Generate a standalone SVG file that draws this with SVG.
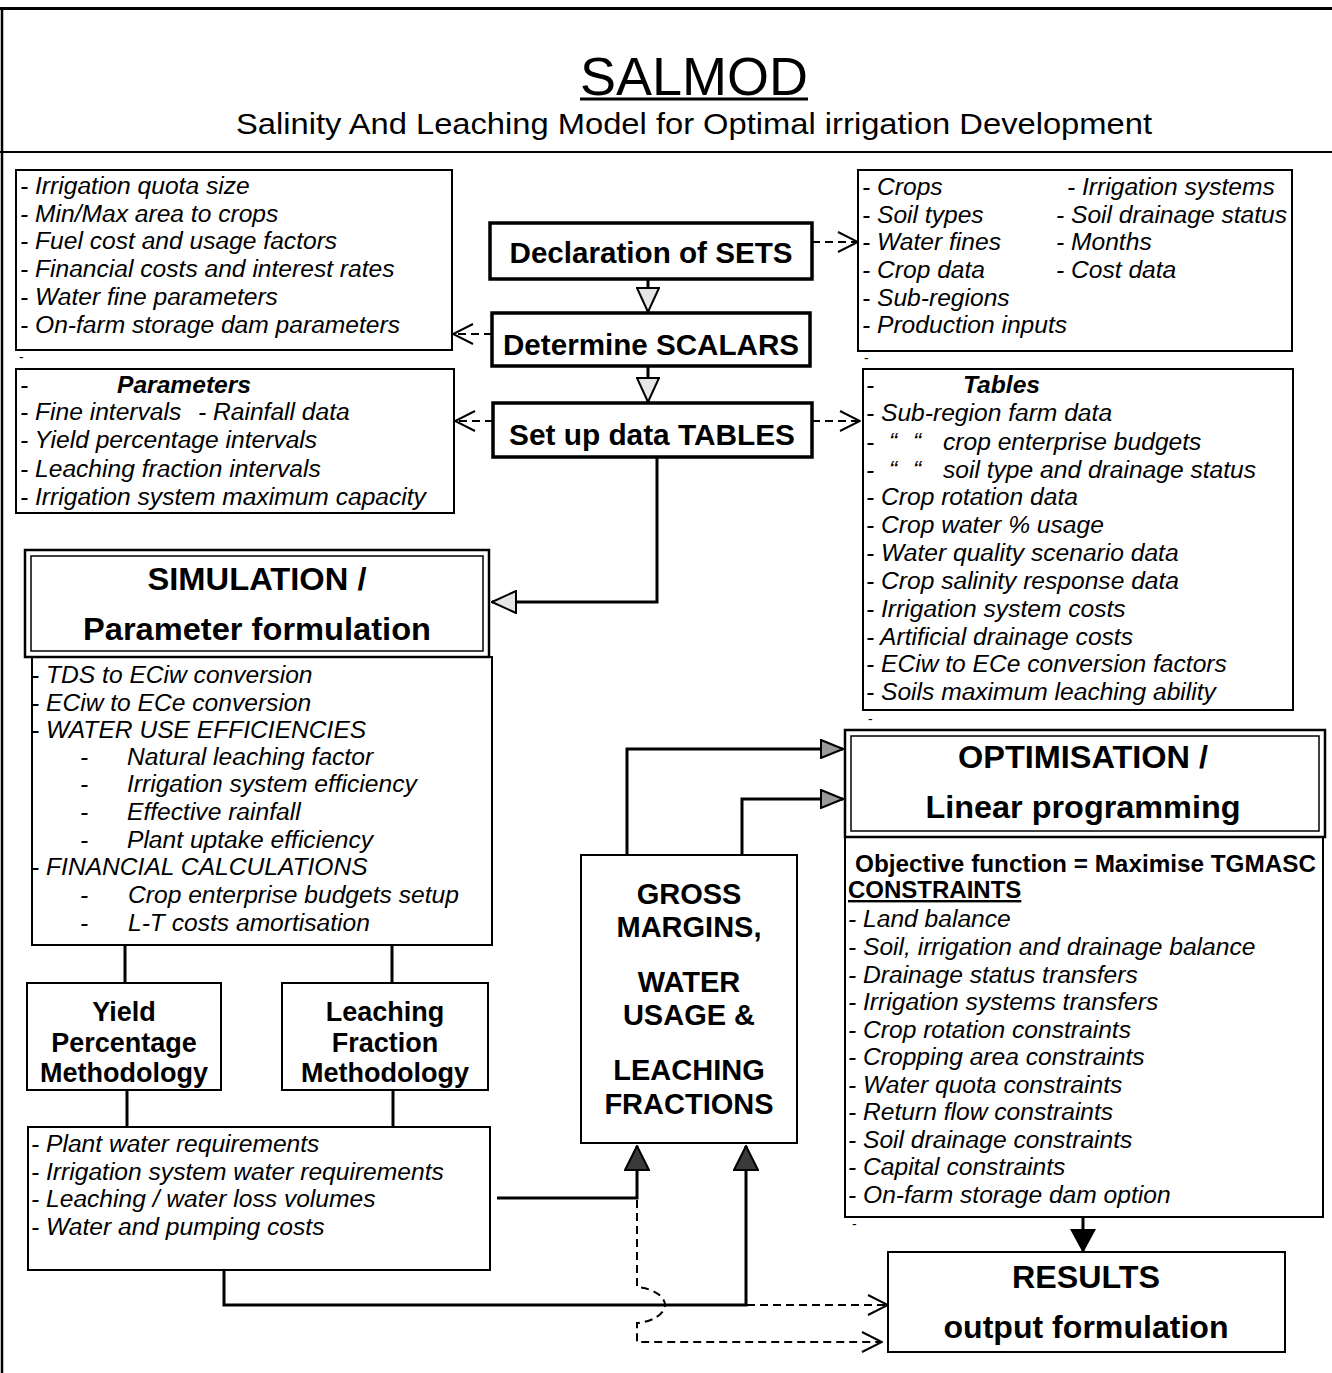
<svg xmlns="http://www.w3.org/2000/svg" width="1332" height="1373" viewBox="0 0 1332 1373">
<style>
text { font-family: "Liberation Sans", Arial, Helvetica, sans-serif; fill: #000; }
.it { font-style: italic; font-size: 24.6px; }
.bi { font-style: italic; font-weight: bold; font-size: 24.6px; }
.bd { font-weight: bold; }
.c { text-anchor: middle; }
.box { fill: #fff; stroke: #000; stroke-width: 2; }
.kbox { fill: #fff; stroke: #000; stroke-width: 3.5; }
.frame { fill: none; stroke: #000; }
.conn { fill: none; stroke: #000; stroke-width: 3; }
.dash { fill: none; stroke: #000; stroke-width: 2; stroke-dasharray: 8 5; }
.tiny { font-size: 14px; }
</style>
<defs>
<marker id="hol" viewBox="0 0 26 24" refX="25" refY="12" markerWidth="26" markerHeight="24" markerUnits="userSpaceOnUse" orient="auto">
<path d="M1,1 L25,12 L1,23 Z" fill="#e6e6e6" stroke="#000" stroke-width="2" stroke-linejoin="miter"/>
</marker>
<marker id="gry" viewBox="0 0 24 20" refX="23" refY="10" markerWidth="24" markerHeight="20" markerUnits="userSpaceOnUse" orient="auto">
<path d="M1,1 L23,10 L1,19 Z" fill="#9a9a9a" stroke="#000" stroke-width="2"/>
</marker>
<marker id="drk" viewBox="0 0 26 26" refX="25" refY="13" markerWidth="26" markerHeight="26" markerUnits="userSpaceOnUse" orient="auto">
<path d="M1,1 L25,13 L1,25 Z" fill="#3a3a3a" stroke="#000" stroke-width="2"/>
</marker>
<marker id="blk" viewBox="0 0 24 28" refX="23" refY="14" markerWidth="24" markerHeight="28" markerUnits="userSpaceOnUse" orient="auto">
<path d="M0,1 L24,14 L0,27 Z" fill="#000" stroke="none"/>
</marker>
<marker id="vee" viewBox="0 0 22 24" refX="21" refY="12" markerWidth="22" markerHeight="24" markerUnits="userSpaceOnUse" orient="auto">
<path d="M1,2 L21,12 L1,22" fill="none" stroke="#000" stroke-width="2" stroke-dasharray="none"/>
</marker>
</defs>
<rect x="0" y="0" width="1332" height="1373" fill="#fff"/>

<g id="frame">
<line class="frame" x1="0" y1="8.5" x2="1332" y2="8.5" stroke-width="3"/>
<line class="frame" x1="2" y1="8" x2="2" y2="1373" stroke-width="2.5"/>
<line class="frame" x1="0" y1="152" x2="1332" y2="152" stroke-width="2"/>
</g>

<g id="title">
<text x="694" y="95" class="c" font-size="54" textLength="228" lengthAdjust="spacingAndGlyphs">SALMOD</text>
<line x1="580" y1="99" x2="808" y2="99" stroke="#000" stroke-width="3"/>
<text x="694" y="134" class="c" font-size="30" textLength="916" lengthAdjust="spacingAndGlyphs">Salinity And Leaching Model for Optimal irrigation Development</text>
</g>

<g id="connectors">
<path class="conn" d="M648,279 V312" marker-end="url(#hol)"/>
<path class="conn" d="M648,366 V402" marker-end="url(#hol)"/>
<path class="conn" d="M657,457 V602 H492" marker-end="url(#hol)"/>
<path class="conn" d="M627,855 V749 H843" marker-end="url(#gry)"/>
<path class="conn" d="M742,855 V799 H843" marker-end="url(#gry)"/>
<path class="conn" d="M497,1198 H637 V1146" marker-end="url(#drk)"/>
<path class="conn" d="M224,1270 V1305 H746 V1146" marker-end="url(#drk)"/>
<path class="conn" d="M1083,1217 V1252" marker-end="url(#blk)"/>
<path class="conn" d="M125,945 V983"/>
<path class="conn" d="M392,945 V983"/>
<path class="conn" d="M127,1090 V1127"/>
<path class="conn" d="M393,1090 V1127"/>
<path class="dash" d="M812,242 H858" marker-end="url(#vee)"/>
<path class="dash" d="M492,334 H453" marker-end="url(#vee)"/>
<path class="dash" d="M493,421 H455" marker-end="url(#vee)"/>
<path class="dash" d="M812,421 H860" marker-end="url(#vee)"/>
<path class="dash" d="M747,1305 H888" marker-end="url(#vee)"/>
<path class="dash" d="M637,1200 V1287 C652,1288 665,1296 665,1305 C665,1314 652,1322 637,1323 V1342 H882" marker-end="url(#vee)"/>
</g>

<g id="scalars-list">
<rect class="box" x="16" y="170" width="436" height="180"/>
<text class="it" x="20" y="194">- Irrigation quota size</text>
<text class="it" x="20" y="222">- Min/Max area to crops</text>
<text class="it" x="20" y="249">- Fuel cost and usage factors</text>
<text class="it" x="20" y="277">- Financial costs and interest rates</text>
<text class="it" x="20" y="305">- Water fine parameters</text>
<text class="it" x="20" y="333">- On-farm storage dam parameters</text>
<text class="tiny" x="19" y="362">-</text>
</g>

<g id="sets-list">
<rect class="box" x="858" y="170" width="434" height="181"/>
<text class="it" x="862" y="195">- Crops</text>
<text class="it" x="1067" y="195">- Irrigation systems</text>
<text class="it" x="862" y="223">- Soil types</text>
<text class="it" x="1056" y="223">- Soil drainage status</text>
<text class="it" x="862" y="250">- Water fines</text>
<text class="it" x="1056" y="250">- Months</text>
<text class="it" x="862" y="278">- Crop data</text>
<text class="it" x="1056" y="278">- Cost data</text>
<text class="it" x="862" y="306">- Sub-regions</text>
<text class="it" x="862" y="333">- Production inputs</text>
<text class="tiny" x="864" y="363">-</text>
</g>

<g id="declaration-sets">
<rect class="kbox" x="490" y="223" width="322" height="56"/>
<text class="bd c" x="651" y="263" font-size="29" textLength="283" lengthAdjust="spacingAndGlyphs">Declaration of SETS</text>
</g>

<g id="determine-scalars">
<rect class="kbox" x="492" y="313" width="318" height="53"/>
<text class="bd c" x="651" y="355" font-size="29" textLength="296" lengthAdjust="spacingAndGlyphs">Determine SCALARS</text>
</g>

<g id="setup-tables">
<rect class="kbox" x="493" y="403" width="319" height="54"/>
<text class="bd c" x="652" y="445" font-size="29" textLength="286" lengthAdjust="spacingAndGlyphs">Set up data TABLES</text>
</g>

<g id="parameters-list">
<rect class="box" x="16" y="369" width="438" height="144"/>
<text class="it" x="20" y="393">-</text>
<text class="bi" x="117" y="393">Parameters</text>
<text class="it" x="20" y="420">- Fine intervals</text>
<text class="it" x="198" y="420">- Rainfall data</text>
<text class="it" x="20" y="448">- Yield percentage intervals</text>
<text class="it" x="20" y="477">- Leaching fraction intervals</text>
<text class="it" x="20" y="505">- Irrigation system maximum capacity</text>
</g>

<g id="tables-list">
<rect class="box" x="863" y="369" width="430" height="341"/>
<text class="it" x="866" y="393">-</text>
<text class="bi" x="963" y="393">Tables</text>
<text class="it" x="866" y="421">- Sub-region farm data</text>
<text class="it" x="866" y="450">-</text>
<text class="it" x="889" y="450">“</text>
<text class="it" x="913" y="450">“</text>
<text class="it" x="943" y="450">crop enterprise budgets</text>
<text class="it" x="866" y="478">-</text>
<text class="it" x="889" y="478">“</text>
<text class="it" x="913" y="478">“</text>
<text class="it" x="943" y="478">soil type and drainage status</text>
<text class="it" x="866" y="505">- Crop rotation data</text>
<text class="it" x="866" y="533">- Crop water % usage</text>
<text class="it" x="866" y="561">- Water quality scenario data</text>
<text class="it" x="866" y="589">- Crop salinity response data</text>
<text class="it" x="866" y="617">- Irrigation system costs</text>
<text class="it" x="866" y="645">- Artificial drainage costs</text>
<text class="it" x="866" y="672">- ECiw to ECe conversion factors</text>
<text class="it" x="866" y="700">- Soils maximum leaching ability</text>
<text class="tiny" x="868" y="724">-</text>
</g>

<g id="simulation">
<rect class="box" x="32" y="657" width="460" height="288"/>
<rect x="25" y="550" width="464" height="107" fill="#fff" stroke="#000" stroke-width="2.5"/>
<rect x="31" y="556" width="452" height="95" fill="none" stroke="#000" stroke-width="1.5"/>
<text class="bd c" x="257" y="590" font-size="31" textLength="219" lengthAdjust="spacingAndGlyphs">SIMULATION /</text>
<text class="bd c" x="257" y="640" font-size="31" textLength="348" lengthAdjust="spacingAndGlyphs">Parameter formulation</text>
<text class="it" x="31" y="683">- TDS to ECiw conversion</text>
<text class="it" x="31" y="711">- ECiw to ECe conversion</text>
<text class="it" x="31" y="738">- WATER USE EFFICIENCIES</text>
<text class="it" x="80" y="765">-</text>
<text class="it" x="127" y="765">Natural leaching factor</text>
<text class="it" x="80" y="792">-</text>
<text class="it" x="127" y="792">Irrigation system efficiency</text>
<text class="it" x="80" y="820">-</text>
<text class="it" x="127" y="820">Effective rainfall</text>
<text class="it" x="80" y="848">-</text>
<text class="it" x="127" y="848">Plant uptake efficiency</text>
<text class="it" x="31" y="875">- FINANCIAL CALCULATIONS</text>
<text class="it" x="80" y="903">-</text>
<text class="it" x="128" y="903">Crop enterprise budgets setup</text>
<text class="it" x="80" y="931">-</text>
<text class="it" x="128" y="931">L-T costs amortisation</text>
</g>

<g id="yield-percentage">
<rect class="box" x="27" y="983" width="194" height="107"/>
<text class="bd c" x="124" y="1021" font-size="27">Yield</text>
<text class="bd c" x="124" y="1052" font-size="27">Percentage</text>
<text class="bd c" x="124" y="1082" font-size="27">Methodology</text>
</g>

<g id="leaching-fraction">
<rect class="box" x="282" y="983" width="206" height="107"/>
<text class="bd c" x="385" y="1021" font-size="27">Leaching</text>
<text class="bd c" x="385" y="1052" font-size="27">Fraction</text>
<text class="bd c" x="385" y="1082" font-size="27">Methodology</text>
</g>

<g id="water-requirements">
<rect class="box" x="28" y="1127" width="462" height="143"/>
<text class="it" x="31" y="1152">- Plant water requirements</text>
<text class="it" x="31" y="1180">- Irrigation system water requirements</text>
<text class="it" x="31" y="1207">- Leaching / water loss volumes</text>
<text class="it" x="31" y="1235">- Water and pumping costs</text>
</g>

<g id="gross-margins">
<rect class="box" x="581" y="855" width="216" height="288"/>
<text class="bd c" x="689" y="904" font-size="29">GROSS</text>
<text class="bd c" x="689" y="937" font-size="29">MARGINS,</text>
<text class="bd c" x="689" y="992" font-size="29">WATER</text>
<text class="bd c" x="689" y="1025" font-size="29">USAGE &amp;</text>
<text class="bd c" x="689" y="1080" font-size="29">LEACHING</text>
<text class="bd c" x="689" y="1114" font-size="29">FRACTIONS</text>
</g>

<g id="optimisation">
<rect class="box" x="845" y="837" width="478" height="380"/>
<rect x="845" y="730" width="480" height="107" fill="#fff" stroke="#000" stroke-width="2.5"/>
<rect x="851" y="736" width="468" height="95" fill="none" stroke="#000" stroke-width="1.5"/>
<text class="bd c" x="1083" y="768" font-size="31" textLength="250" lengthAdjust="spacingAndGlyphs">OPTIMISATION /</text>
<text class="bd c" x="1083" y="818" font-size="31" textLength="315" lengthAdjust="spacingAndGlyphs">Linear programming</text>
<text class="bd" x="855" y="872" font-size="24.3">Objective function = Maximise TGMASC</text>
<text class="bd" x="848" y="898" font-size="24" text-decoration="underline">CONSTRAINTS</text>
<text class="it" x="848" y="927">- Land balance</text>
<text class="it" x="848" y="955">- Soil, irrigation and drainage balance</text>
<text class="it" x="848" y="983">- Drainage status transfers</text>
<text class="it" x="848" y="1010">- Irrigation systems transfers</text>
<text class="it" x="848" y="1038">- Crop rotation constraints</text>
<text class="it" x="848" y="1065">- Cropping area constraints</text>
<text class="it" x="848" y="1093">- Water quota constraints</text>
<text class="it" x="848" y="1120">- Return flow constraints</text>
<text class="it" x="848" y="1148">- Soil drainage constraints</text>
<text class="it" x="848" y="1175">- Capital constraints</text>
<text class="it" x="848" y="1203">- On-farm storage dam option</text>
<text class="tiny" x="852" y="1229">-</text>
</g>

<g id="results">
<rect class="box" x="888" y="1252" width="397" height="100"/>
<text class="bd c" x="1086" y="1288" font-size="31" textLength="148" lengthAdjust="spacingAndGlyphs">RESULTS</text>
<text class="bd c" x="1086" y="1338" font-size="31" textLength="285" lengthAdjust="spacingAndGlyphs">output formulation</text>
</g>
</svg>
